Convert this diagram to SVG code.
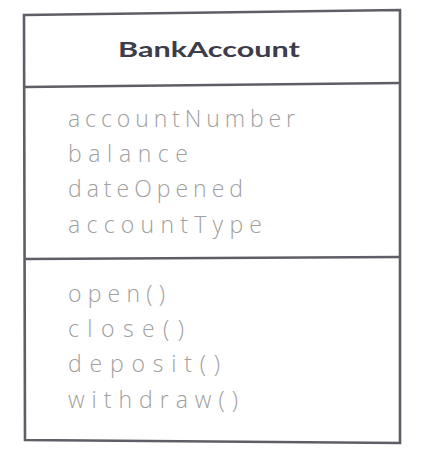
<svg xmlns="http://www.w3.org/2000/svg" width="426" height="456" viewBox="0 0 426 456">
  <style>
    .frame { fill: #ffffff; stroke: #5e5e66; stroke-width: 2.6; stroke-linejoin: miter; }
    .rule { stroke: #5e5e66; stroke-width: 2.4; fill: none; }
    .title { font-family: "Lato", "Liberation Sans", sans-serif; font-weight: bold; font-size: 21px; fill: #3c3c4a; }
    .member { font-family: "Open Sans", "Liberation Sans", sans-serif; font-weight: 300; font-size: 23px; fill: #a0a0a0; }
  </style>
  <rect width="426" height="456" fill="#ffffff"/>
  <g id="BankAccount">
    <polygon class="frame" points="24,15 400,10 400,443 25,440"/>
    <line class="rule" x1="24" y1="87" x2="400" y2="83"/>
    <line class="rule" x1="25" y1="259" x2="400" y2="257"/>
    <text class="title" x="118" y="57" textLength="182" lengthAdjust="spacingAndGlyphs">BankAccount</text>
    <g id="attributes">
      <text class="member" x="68" y="127" textLength="227" lengthAdjust="spacing">accountNumber</text>
      <text class="member" x="68" y="162" textLength="120" lengthAdjust="spacing">balance</text>
      <text class="member" x="68" y="197" textLength="175" lengthAdjust="spacing">dateOpened</text>
      <text class="member" x="68" y="233" textLength="194" lengthAdjust="spacing">accountType</text>
    </g>
    <g id="operations">
      <text class="member" x="68" y="302" textLength="97" lengthAdjust="spacing">open()</text>
      <text class="member" x="68" y="337" textLength="116" lengthAdjust="spacing">close()</text>
      <text class="member" x="68" y="372" textLength="152" lengthAdjust="spacing">deposit()</text>
      <text class="member" x="68" y="408" textLength="170" lengthAdjust="spacing">withdraw()</text>
    </g>
  </g>
  <g id="connectors"/>
</svg>
